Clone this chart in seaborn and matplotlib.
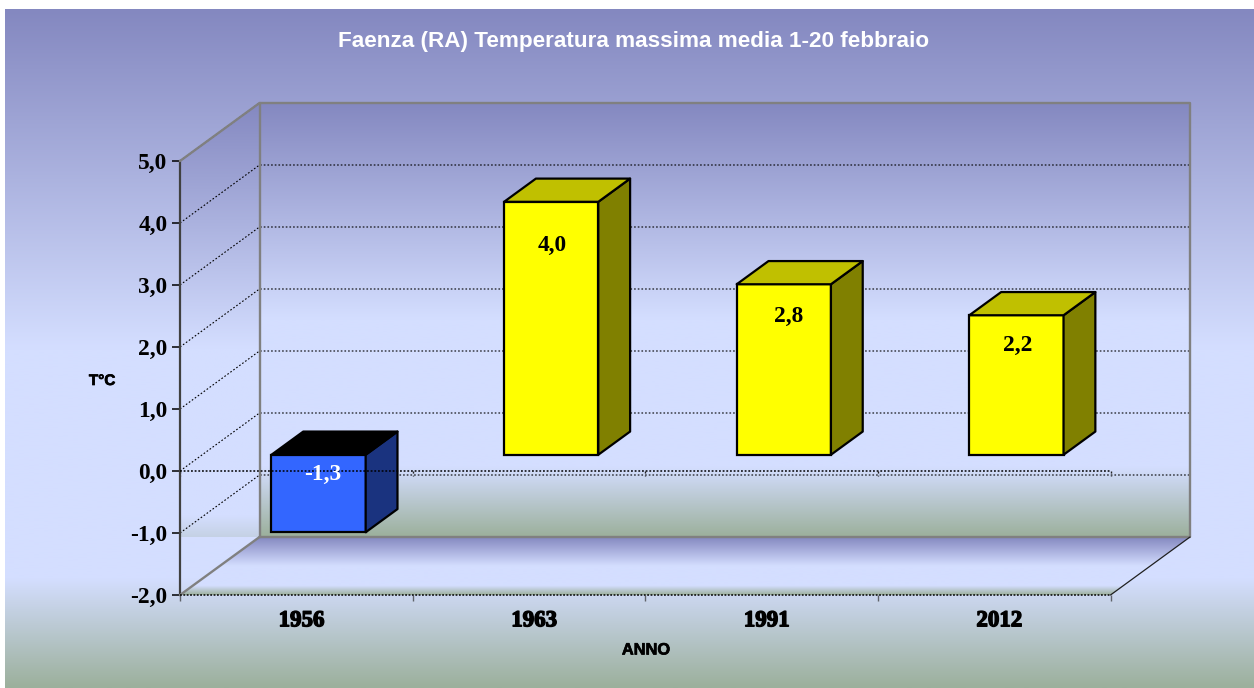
import numpy as np
import pandas as pd
import matplotlib
matplotlib.use("Agg")
import matplotlib.pyplot as plt
import seaborn as sns
from matplotlib.colors import LinearSegmentedColormap
from matplotlib.patches import Polygon
from matplotlib.transforms import Affine2D, IdentityTransform
import matplotlib.patheffects as pe

# ---- data ----
years = ["1956", "1963", "1991", "2012"]
values = [-1.25, 4.08, 2.75, 2.25]
value_labels = ["-1,3", "4,0", "2,8", "2,2"]
label_levels = [-0.32, 3.37, 2.23, 1.77]
label_shifts = [0.017, 0.006, 0.022, 0.004]
face_colors = ["#3366FF", "#FFFF00", "#FFFF00", "#FFFF00"]
side_colors = ["#1A337F", "#808000", "#808000", "#808000"]
top_colors = ["#000000", "#C0C000", "#C0C000", "#C0C000"]
y_ticks = [-2, -1, 0, 1, 2, 3, 4, 5]
y_tick_labels = ["-2,0", "-1,0", "0,0", "1,0", "2,0", "3,0", "4,0", "5,0"]
title = "Faenza (RA) Temperatura massima media 1-20 febbraio"

W, H = 1254, 688
DX, DY = 79.5, 58        # depth of the box, px
BAR_F0, BAR_DEPTH = 0.28, 0.40
SERIF = "Liberation Serif"
SANS = "Liberation Sans"

sns.set_theme(style="white")
fig = plt.figure(figsize=(W / 100, H / 100), dpi=100, facecolor="white")

# ---- background in pixel coordinates ----
bg = fig.add_axes([0, 0, 1, 1], zorder=0)
bg.set_xlim(0, W); bg.set_ylim(H, 0); bg.axis("off")
cmap = LinearSegmentedColormap.from_list(
    "bg", [(0, "#8488C0"), (0.50, "#D4DEFF"), (0.84, "#D4DEFF"), (1, "#9CB09C")])
grad = np.linspace(0, 1, 256).reshape(-1, 1)


def gradient(x0, x1, y0, y1, clip=None, z=1):
    im = bg.imshow(grad, cmap=cmap, aspect="auto", extent=(x0, x1, y1, y0),
                   zorder=z, interpolation="bilinear")
    if clip is not None:
        p = Polygon(clip, closed=True, transform=bg.transData, fc="none", ec="none")
        bg.add_patch(p)
        im.set_clip_path(p)


gradient(5, W, 9, H)
gradient(180, 260, 102, 595, clip=[(180, 161), (260, 102), (260, 537), (180, 537)], z=2)
gradient(260, 1190, 102, 537, z=2)
gradient(180, 1190, 537, 595, clip=[(180, 595), (260, 537), (1190, 537), (1111, 595)], z=3)
bg.set_xlim(0, W); bg.set_ylim(H, 0)

# ---- main axes: the front plane of the box ----
x0, x1, ytop, ybot = 180, 1110.5, 161, 595
ax = fig.add_axes([x0 / W, 1 - ybot / H, (x1 - x0) / W, (ybot - ytop) / H], zorder=2)
ax.patch.set_alpha(0)

df = pd.DataFrame({"anno": years, "t": values})
sns.barplot(data=df, x="anno", y="t", hue="anno", palette=face_colors, legend=False,
            width=0.405, edgecolor="black", linewidth=1.6, ax=ax, saturation=1, zorder=5)
ax.set_xlim(-0.5, 3.5)
ax.set_ylim(-2, 5)
ax.set_yticks(y_ticks)
ax.set_yticklabels(y_tick_labels, fontfamily=SERIF, fontweight="bold", fontsize=16.8, color="black")
# year labels sit slightly right of the category centre, as in the original
ax.set_xticks(np.arange(len(years)) + 0.022)
ax.set_xticklabels(years, fontfamily=SERIF, fontweight="bold", fontsize=16.5, color="black",
                   path_effects=[pe.withStroke(linewidth=1.0, foreground="black")])
ax.set_xticks(np.arange(-0.5, 4, 1), minor=True)
ax.tick_params(axis="x", which="major", length=0, pad=11)
ax.tick_params(axis="x", which="minor", bottom=True, length=4, width=1, color="#333333", direction="out")
for tick in ax.xaxis.get_minorticklines():
    tick.set_markeredgewidth(1)
    tick.set_alpha(0.7)
ax.tick_params(axis="y", length=6, width=1.1, color="black", pad=3, left=True)
for s in ax.spines.values():
    s.set_visible(False)
ax.spines["left"].set_visible(True)
ax.spines["left"].set_color("#404040")
ax.spines["left"].set_linewidth(1.6)
ax.set_xlabel("")
ax.set_ylabel("")


def px(x, y, f=0.0):
    """Display position of data point (x, y) pushed back by depth fraction f."""
    d = ax.transData.transform((x, y))
    return (d[0] + DX * f, d[1] + DY * f)


depth = lambda f: ax.transData + Affine2D().translate(DX * f, DY * f)
disp = IdentityTransform()

fig.canvas.draw()

# walls: dotted grid lines from the axis values
for v in y_ticks:
    xa = ax.get_xlim()
    pts = [px(xa[0], v), px(xa[0], v, 1), px(xa[1], v, 1)]
    if v == -2:
        continue
    ax.plot(*zip(*pts), transform=disp, color="black", lw=0.8, ls=(0, (1.5, 1.8)),
            zorder=2, clip_on=False)

xa = ax.get_xlim()
# box frame
GREY = "#808080"
frame = [px(xa[0], 5), px(xa[0], 5, 1), px(xa[1], 5, 1), px(xa[1], -2, 1), px(xa[0], -2, 1)]
ax.plot(*zip(*frame), transform=disp, color=GREY, lw=1.7, zorder=3, clip_on=False)
ax.plot(*zip(*[px(xa[0], -2, 1), px(xa[0], 5, 1)]), transform=disp, color=GREY, lw=1.7, zorder=3, clip_on=False)
ax.plot(*zip(*[px(xa[0], -2), px(xa[0], -2, 1)]), transform=disp, color=GREY, lw=1.7, zorder=3, clip_on=False)
ax.plot(*zip(*[px(xa[1], -2), px(xa[1], -2, 1)]), transform=disp, color="#202020", lw=0.9, zorder=3, clip_on=False)
# front floor edge
ax.plot(*zip(*[px(xa[0], -2), px(xa[1], -2)]), transform=disp, color="black", lw=1.1,
        ls=(0, (1.2, 1.0)), zorder=3, clip_on=False)

# bars: front face pushed back, side and top faces built from each bar
for bar, side, top in zip(ax.patches, side_colors, top_colors):
    l, w = bar.get_x(), bar.get_width()
    b, h = bar.get_y(), bar.get_height()
    lo, hi = min(b, b + h), max(b, b + h)
    r = l + w
    bar.set_transform(depth(BAR_F0))
    f0, f1 = BAR_F0, BAR_F0 + BAR_DEPTH
    ax.add_patch(Polygon([px(r, lo, f0), px(r, lo, f1), px(r, hi, f1), px(r, hi, f0)],
                         closed=True, transform=disp, fc=side, ec="black", lw=1.6,
                         joinstyle="round", zorder=5, clip_on=False))
    ax.add_patch(Polygon([px(l, hi, f0), px(r, hi, f0), px(r, hi, f1), px(l, hi, f1)],
                         closed=True, transform=disp, fc=top, ec="black", lw=1.6,
                         joinstyle="round", zorder=5, clip_on=False))

# horizontal plane at zero, over the bars
ax.plot(*zip(*[px(xa[0], 0), px(xa[1], 0)]), transform=disp, color="black", lw=1.1,
        ls=(0, (1.2, 1.2)), zorder=6, clip_on=False)
for t in np.arange(-0.5, 4, 1):
    a = px(t, 0)
    ax.plot([a[0], a[0]], [a[1], a[1] - 5], transform=disp, color="#222222", lw=1,
            ls=(0, (1.5, 1.5)), zorder=2, clip_on=False)

# value labels
for i, (lab, lev, sh) in enumerate(zip(value_labels, label_levels, label_shifts)):
    ax.text(i + sh, lev, lab, transform=depth(BAR_F0), ha="center", va="center",
            fontfamily=SERIF, fontweight="bold", fontsize=16.8,
            color="white" if values[i] < 0 else "black", zorder=7)

# titles in figure pixels
fig.text(634 / W, 1 - 42 / H, title, ha="center", va="center", color="white",
         fontfamily=SANS, fontweight="bold", fontsize=16.2)
fig.text(102 / W, 1 - 381 / H, "T°C", ha="center", va="center", color="black",
         fontfamily=SANS, fontweight="bold", fontsize=11,
         path_effects=[pe.withStroke(linewidth=0.5, foreground="black")])
fig.text(646 / W, 1 - 650 / H, "ANNO", ha="center", va="center", color="black",
         fontfamily=SANS, fontweight="bold", fontsize=11.8,
         path_effects=[pe.withStroke(linewidth=0.5, foreground="black")])

fig.savefig("out.png", dpi=100)
